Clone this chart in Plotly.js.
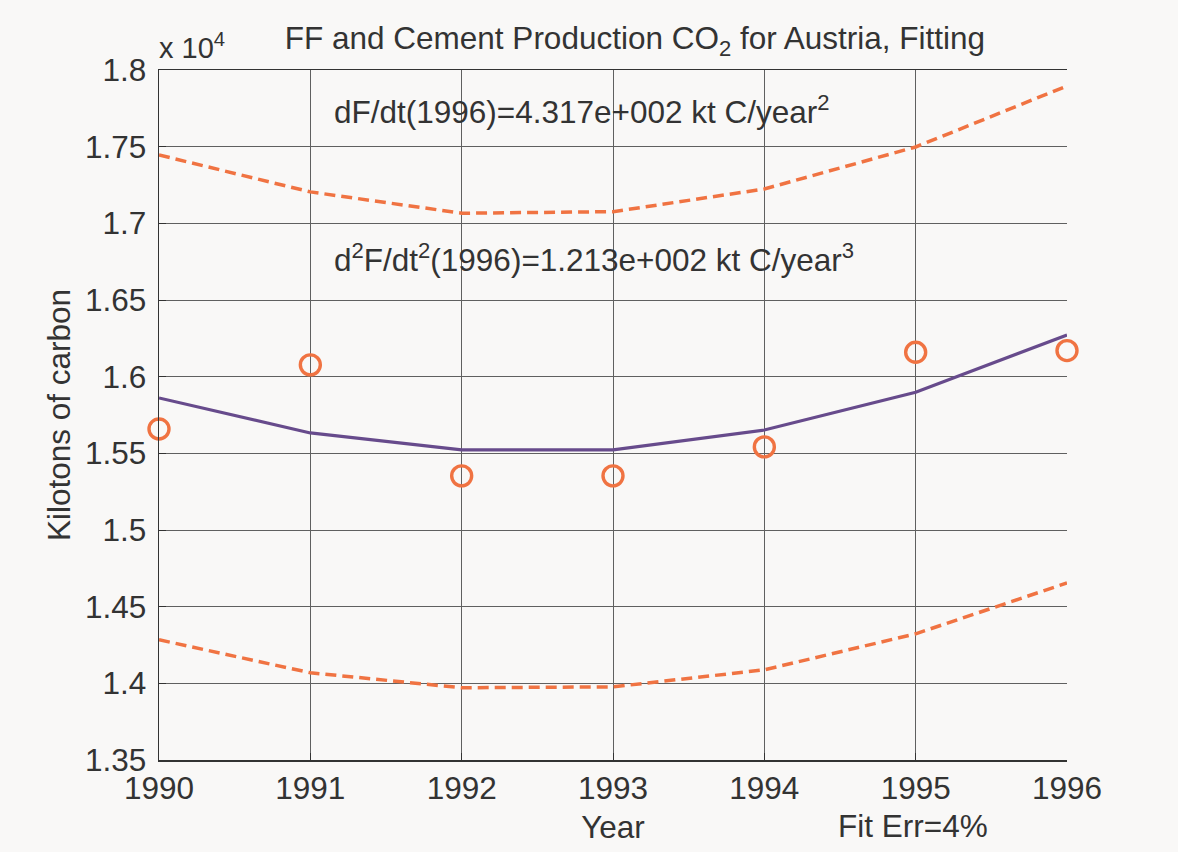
<!DOCTYPE html>
<html>
<head>
<meta charset="utf-8">
<script src="https://cdn.plot.ly/plotly-3.0.1.min.js"></script>
<style>html,body{margin:0;padding:0;background:#f9f8f7;}</style>
</head>
<body>
<div id="chart" style="width:1178px;height:852px;"></div>
<script>
// Data (kilotons of carbon)
const years = [1990, 1991, 1992, 1993, 1994, 1995, 1996];
const observed = [15659, 16077, 15353, 15353, 15542, 16159, 16170];
const fitted = [15861, 15633, 15522, 15522, 15652, 15898, 16272];
const upperBound = [17446, 17205, 17066, 17076, 17224, 17498, 17896];
const lowerBound = [14284, 14069, 13971, 13977, 14088, 14323, 14655];
const yTickVals = [13500, 14000, 14500, 15000, 15500, 16000, 16500, 17000, 17500, 18000];
const yTickText = ['1.35', '1.4', '1.45', '1.5', '1.55', '1.6', '1.65', '1.7', '1.75', '1.8'];
const xTickText = ['1990', '1991', '1992', '1993', '1994', '1995', '1996'];

const orange = '#f07342';
const purple = '#674b8c';
const textColor = '#333333';
const font = '"Liberation Sans", Arial, Helvetica, sans-serif';
const fs = 31.5;

const traces = [
  {x: years, y: upperBound, mode: 'lines', line: {color: orange, width: 3.5, dash: '11px,6px'}, cliponaxis: false, hoverinfo: 'skip'},
  {x: years, y: lowerBound, mode: 'lines', line: {color: orange, width: 3.5, dash: '11px,6px'}, cliponaxis: false, hoverinfo: 'skip'},
  {x: years, y: fitted, mode: 'lines', line: {color: purple, width: 3.2}, cliponaxis: false},
  {x: years, y: observed, mode: 'markers', marker: {symbol: 'circle-open', size: 20, color: orange, line: {color: orange, width: 3.4}}, cliponaxis: false}
];

const layout = {
  width: 1178, height: 852,
  paper_bgcolor: '#f9f8f7', plot_bgcolor: '#f9f8f7',
  showlegend: false,
  margin: {l: 159, r: 111, t: 70, b: 92},
  font: {family: font, size: fs, color: textColor},
  title: {text: 'FF and Cement Production CO<sub>2</sub> for Austria, Fitting', font: {family: font, size: fs, color: textColor}, x: 0.539, xanchor: 'center', y: 0.955, yanchor: 'middle'},
  xaxis: {
    range: [1990, 1996], tickvals: years, ticktext: xTickText,
    showgrid: true, gridcolor: '#606060', gridwidth: 1,
    showline: true, linecolor: '#333333', linewidth: 1.5, mirror: true,
    ticks: 'inside', ticklen: 7, tickcolor: '#333333',
    tickfont: {family: font, size: fs, color: textColor},
    ticklabelstandoff: 0,
    zeroline: false,
    title: {text: 'Year', font: {family: font, size: fs, color: textColor}, standoff: 10}
  },
  yaxis: {
    range: [13500, 18000], tickvals: yTickVals, ticktext: yTickText,
    showgrid: true, gridcolor: '#606060', gridwidth: 1,
    showline: true, linecolor: '#333333', linewidth: 1.5, mirror: false,
    ticks: 'inside', ticklen: 7, tickcolor: '#333333',
    tickfont: {family: font, size: fs, color: textColor},
    ticklabelstandoff: 5,
    zeroline: false,
    title: {text: 'Kilotons of carbon', font: {family: font, size: fs, color: textColor}, standoff: 5}
  },
  annotations: [
    {xref: 'paper', yref: 'paper', x: -0.002, y: 1.0, xanchor: 'left', yanchor: 'bottom', yshift: 4, text: 'x 10<sup>4</sup>', showarrow: false, font: {family: font, size: 29, color: textColor}},
    {xref: 'paper', yref: 'paper', x: 0.19, y: 0.9425, xanchor: 'left', yanchor: 'middle', text: 'dF/dt(1996)=4.317e+002 kt C/year<sup>2</sup>', showarrow: false, font: {family: font, size: fs, color: textColor}},
    {xref: 'paper', yref: 'paper', x: 0.19, y: 0.7275, xanchor: 'left', yanchor: 'middle', text: 'd<sup>2</sup>F/dt<sup>2</sup>(1996)=1.213e+002 kt C/year<sup>3</sup>', showarrow: false, font: {family: font, size: fs, color: textColor}},
    {xref: 'paper', yref: 'paper', x: 0.746, y: -0.0955, xanchor: 'left', yanchor: 'middle', text: 'Fit Err=4%', showarrow: false, font: {family: font, size: fs, color: textColor}}
  ]
};

Plotly.newPlot('chart', traces, layout, {displayModeBar: false, staticPlot: true});
</script>
</body>
</html>
